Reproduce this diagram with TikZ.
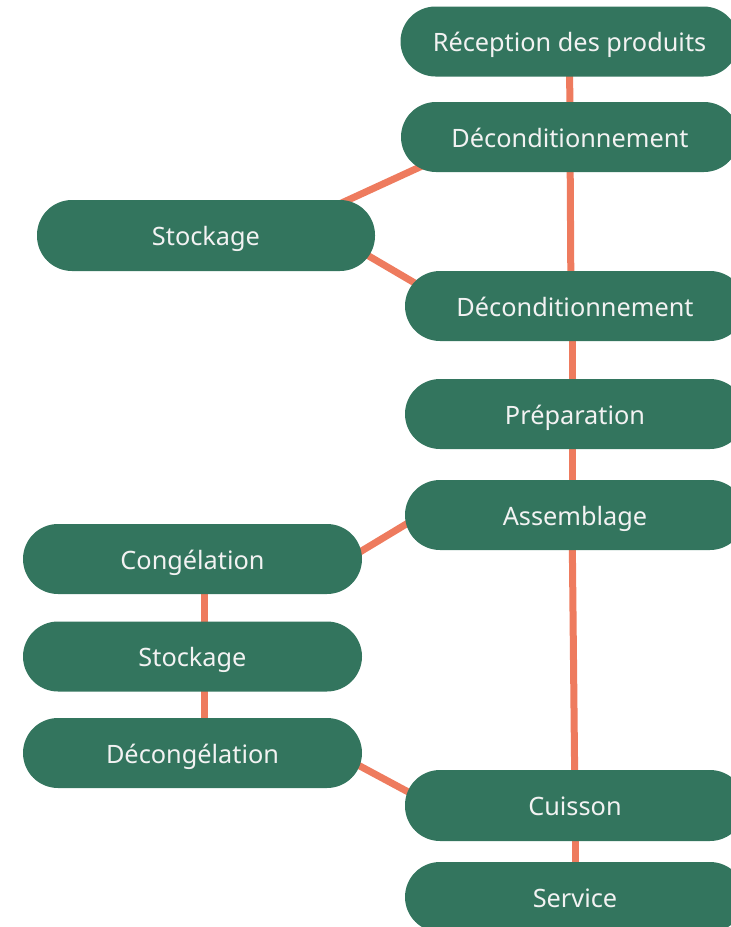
\documentclass[tikz,border=0pt]{standalone}
\usepackage{fontspec}
\setmainfont{Noto Sans}
\definecolor{boxgreen}{RGB}{51,117,94}
\definecolor{linkorange}{RGB}{238,123,94}
\definecolor{txt}{RGB}{242,242,242}
\pgfdeclarelayer{bg}
\pgfsetlayers{bg,main}
\begin{document}
\begin{tikzpicture}[x=1pt,y=-1pt,
  stepbox/.style={fill=boxgreen,rounded corners=35pt,minimum height=70pt,inner sep=0pt,
    text height=20pt,text depth=0pt,
    text=txt,font=\fontsize{25.3}{29}\selectfont},
  rbox/.style={stepbox,minimum width=338pt},
  lbox/.style={stepbox,minimum width=339pt},
  link/.style={draw=linkorange,line width=7pt}]
\useasboundingbox (0,0) rectangle (731,927);
\clip (0,0) rectangle (731,927);
% nodes
\node[rbox] (rec) at (569.5,41.5) {Réception des produits};
\node[rbox] (d1) at (570,137) {Déconditionnement};
\node[lbox,minimum width=338pt,minimum height=71pt] (st1) at (206,235.5) {Stockage};
\node[rbox,minimum width=340pt] (d2) at (575,306) {Déconditionnement};
\node[rbox,minimum width=340pt] (prep) at (575,414) {Préparation};
\node[rbox,minimum width=340pt] (ass) at (575,515) {Assemblage};
\node[lbox] (cong) at (192.5,559) {Congélation};
\node[lbox] (st2) at (192.5,656.5) {Stockage};
\node[lbox] (decong) at (192.5,753) {Décongélation};
\node[rbox,minimum width=340pt,minimum height=71pt] (cuis) at (575,805.5) {Cuisson};
\node[rbox,minimum width=340pt] (serv) at (575,897) {Service};
% anchor points for slanted links
\coordinate (a1) at (310,217.5);
\coordinate (b1) at (450,153.2);
\coordinate (a2) at (330,233.3);
\coordinate (b2) at (440,297.8);
\coordinate (a3) at (330,570);
\coordinate (b3) at (440,503.7);
\coordinate (a4) at (330,750);
\coordinate (b4) at (440,809);
\begin{pgfonlayer}{bg}
\draw[link] (rec.center) -- (d1.center);
\draw[link] (d1.center) -- ([xshift=-4pt]d2.center);
\draw[link] ([xshift=-3pt]d2.center) -- ([xshift=-3pt]prep.center);
\draw[link] ([xshift=-3pt]prep.center) -- ([xshift=-3pt]ass.center);
\draw[link] ([xshift=-3pt]ass.center) -- (cuis.center);
\draw[link] (cuis.center) -- (serv.center);
\draw[link] ([xshift=11.5pt]cong.center) -- ([xshift=11.5pt]st2.center);
\draw[link] ([xshift=12pt]st2.center) -- ([xshift=12pt]decong.center);
\draw[link] (a1) -- (b1);
\draw[link] (a2) -- (b2);
\draw[link] (a3) -- (b3);
\draw[link] (a4) -- (b4);
\end{pgfonlayer}
\end{tikzpicture}
\end{document}
